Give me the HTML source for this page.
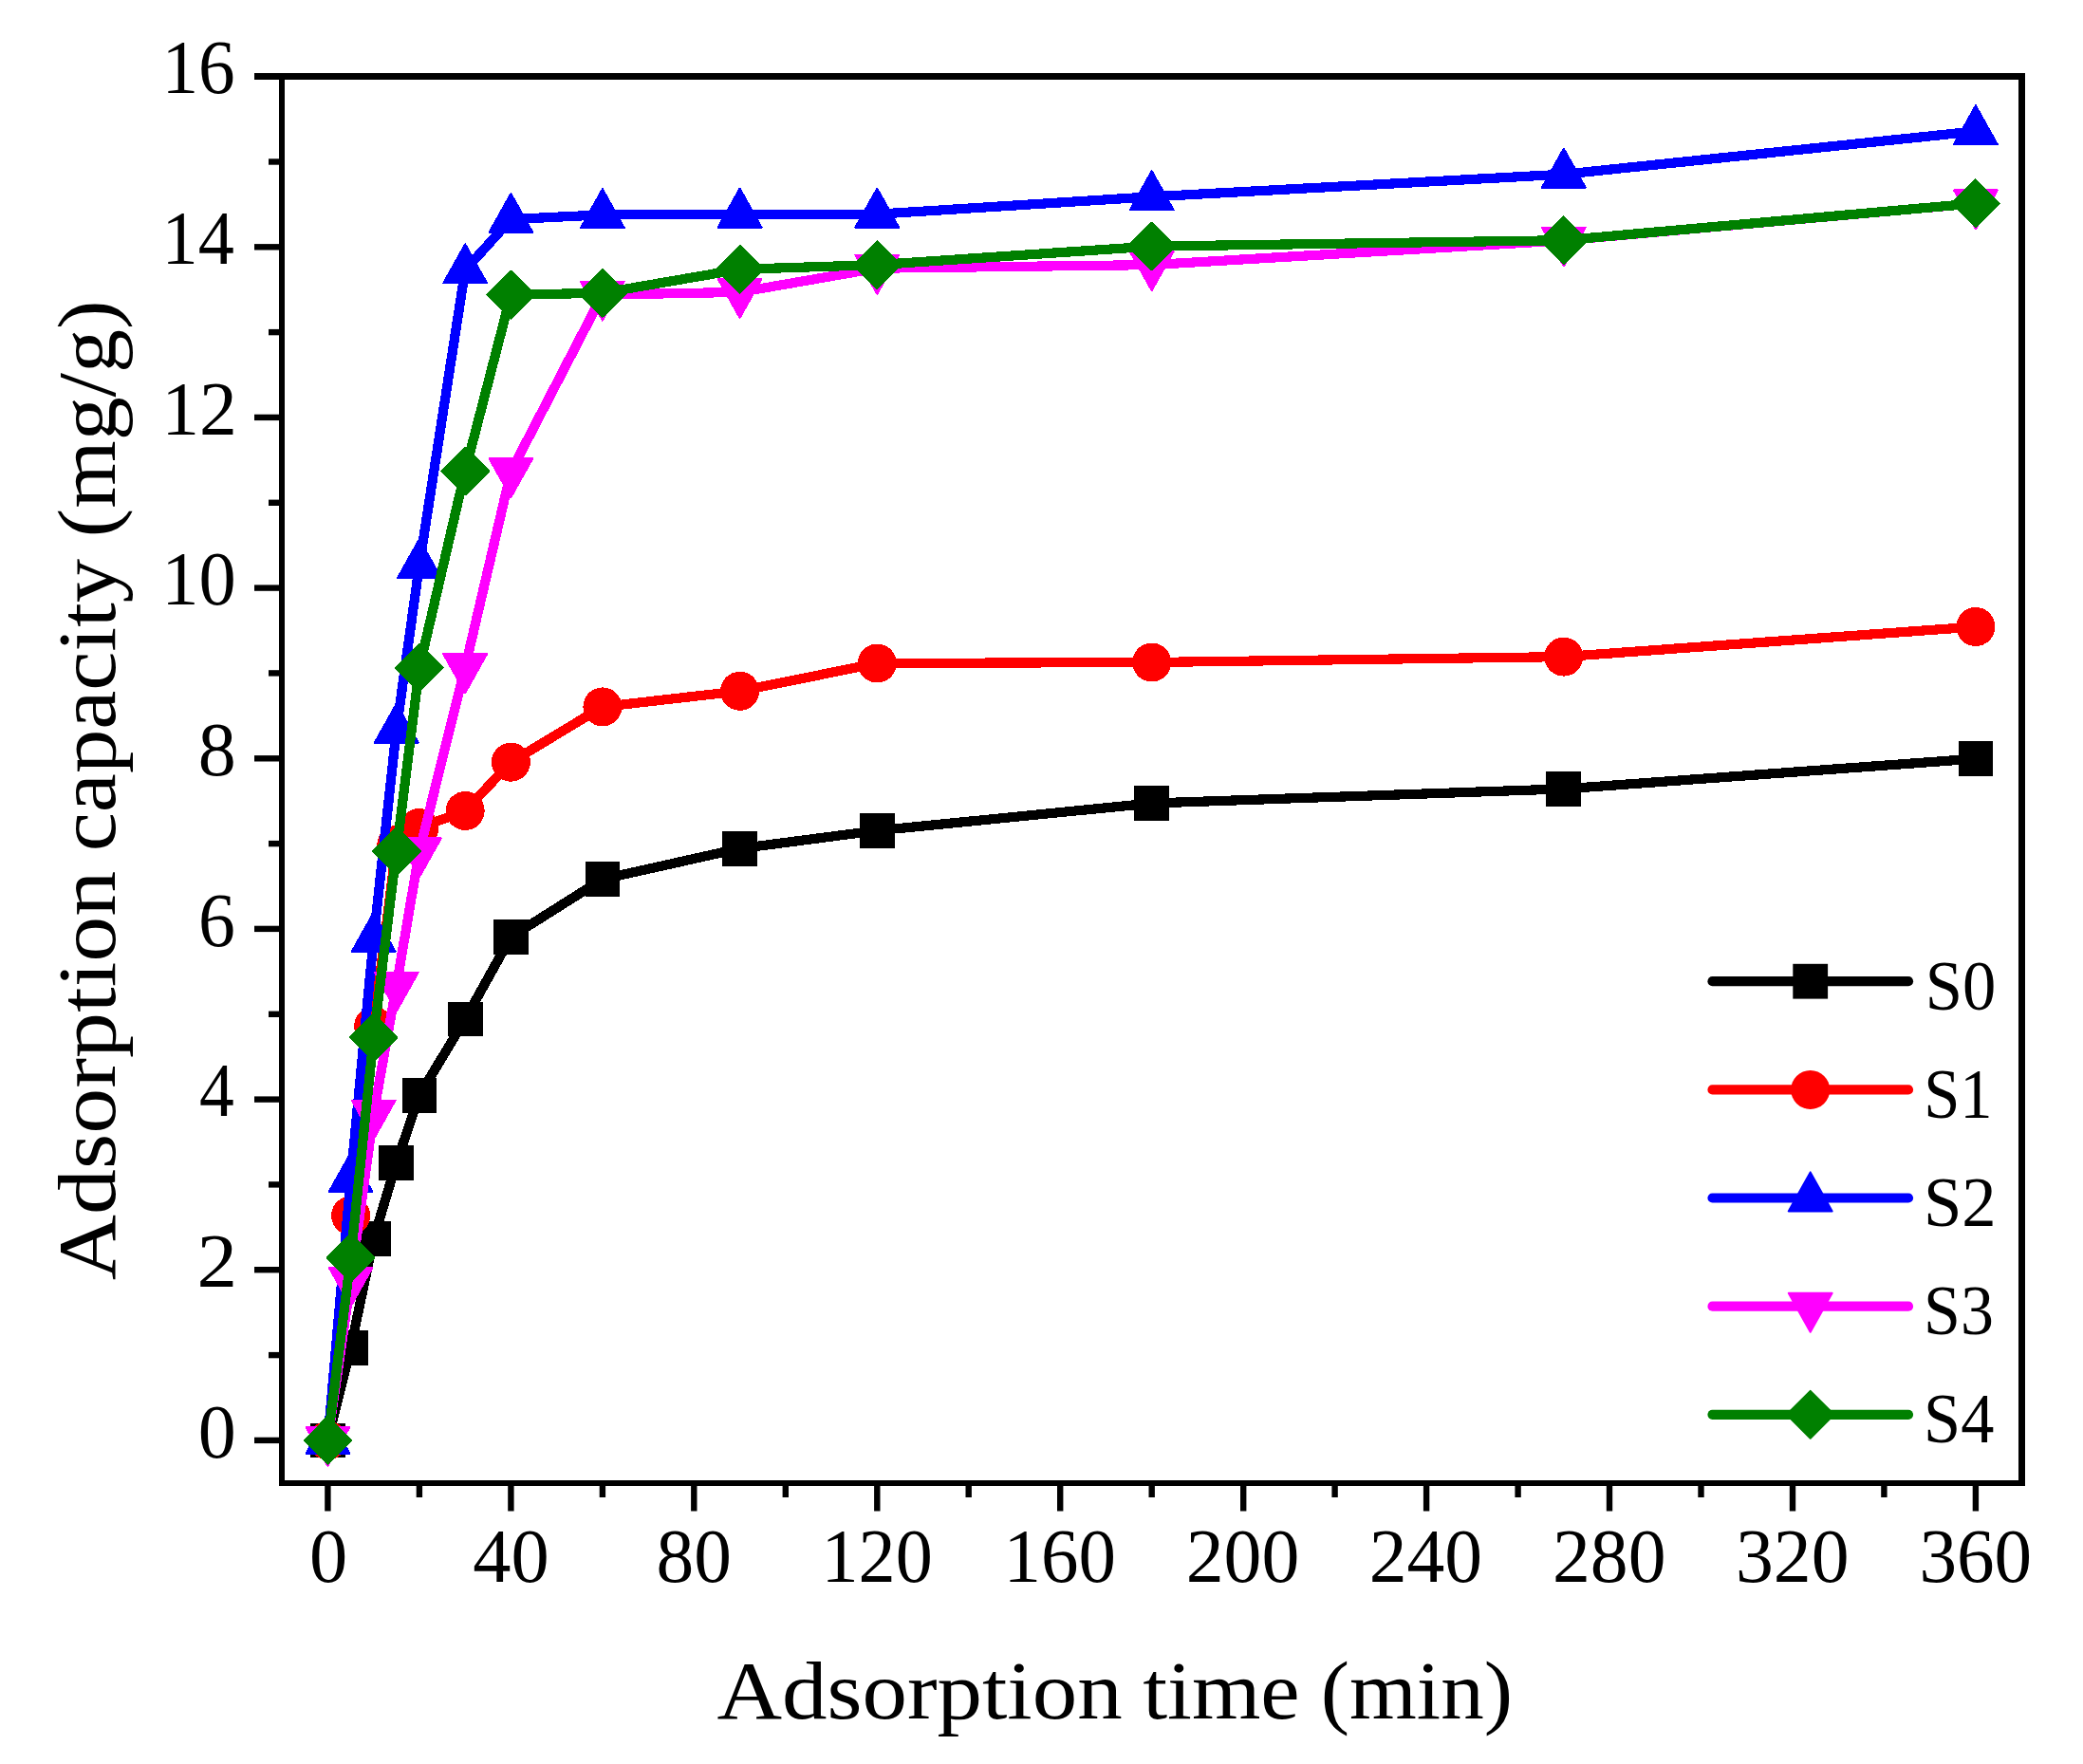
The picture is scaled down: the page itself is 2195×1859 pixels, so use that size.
<!DOCTYPE html>
<html lang="en">
<head>
<meta charset="utf-8">
<title>Adsorption capacity vs adsorption time</title>
<style>
html,body{margin:0;padding:0;background:#ffffff;}
body{width:2195px;height:1859px;overflow:hidden;}
svg{display:block;}
text{font-family:"Liberation Serif","DejaVu Serif",serif;fill:#000000;}
.tick{font-size:80px;}
.leg{font-size:74px;}
.title{font-size:86px;}
</style>
</head>
<body>
<svg width="2195" height="1859" viewBox="0 0 2195 1859">
<rect x="0" y="0" width="2195" height="1859" fill="#ffffff"/>
<g stroke="#000000" stroke-width="6.4" fill="none"><line x1="268.0" y1="1517.9" x2="297.0" y2="1517.9"/><line x1="283.0" y1="1428.1" x2="297.0" y2="1428.1"/><line x1="268.0" y1="1338.2" x2="297.0" y2="1338.2"/><line x1="283.0" y1="1248.4" x2="297.0" y2="1248.4"/><line x1="268.0" y1="1158.6" x2="297.0" y2="1158.6"/><line x1="283.0" y1="1068.8" x2="297.0" y2="1068.8"/><line x1="268.0" y1="978.9" x2="297.0" y2="978.9"/><line x1="283.0" y1="889.1" x2="297.0" y2="889.1"/><line x1="268.0" y1="799.3" x2="297.0" y2="799.3"/><line x1="283.0" y1="709.4" x2="297.0" y2="709.4"/><line x1="268.0" y1="619.6" x2="297.0" y2="619.6"/><line x1="283.0" y1="529.8" x2="297.0" y2="529.8"/><line x1="268.0" y1="439.9" x2="297.0" y2="439.9"/><line x1="283.0" y1="350.1" x2="297.0" y2="350.1"/><line x1="268.0" y1="260.3" x2="297.0" y2="260.3"/><line x1="283.0" y1="170.5" x2="297.0" y2="170.5"/><line x1="268.0" y1="80.6" x2="297.0" y2="80.6"/><line x1="345.4" y1="1562.7" x2="345.4" y2="1592.5"/><line x1="441.9" y1="1562.7" x2="441.9" y2="1578.0"/><line x1="538.4" y1="1562.7" x2="538.4" y2="1592.5"/><line x1="634.9" y1="1562.7" x2="634.9" y2="1578.0"/><line x1="731.3" y1="1562.7" x2="731.3" y2="1592.5"/><line x1="827.8" y1="1562.7" x2="827.8" y2="1578.0"/><line x1="924.3" y1="1562.7" x2="924.3" y2="1592.5"/><line x1="1020.7" y1="1562.7" x2="1020.7" y2="1578.0"/><line x1="1117.2" y1="1562.7" x2="1117.2" y2="1592.5"/><line x1="1213.7" y1="1562.7" x2="1213.7" y2="1578.0"/><line x1="1310.2" y1="1562.7" x2="1310.2" y2="1592.5"/><line x1="1406.6" y1="1562.7" x2="1406.6" y2="1578.0"/><line x1="1503.1" y1="1562.7" x2="1503.1" y2="1592.5"/><line x1="1599.6" y1="1562.7" x2="1599.6" y2="1578.0"/><line x1="1696.0" y1="1562.7" x2="1696.0" y2="1592.5"/><line x1="1792.5" y1="1562.7" x2="1792.5" y2="1578.0"/><line x1="1889.0" y1="1562.7" x2="1889.0" y2="1592.5"/><line x1="1985.4" y1="1562.7" x2="1985.4" y2="1578.0"/><line x1="2081.9" y1="1562.7" x2="2081.9" y2="1592.5"/></g>
<g shape-rendering="crispEdges">
<polyline points="345.4,1517.9 369.6,1420.4 393.7,1305.5 417.8,1225.3 441.9,1154.4 490.2,1074.0 538.4,987.4 634.9,926.5 779.6,894.2 924.3,875.3 1213.7,846.5 1647.8,831.4 2081.9,799.6" fill="none" stroke="#000000" stroke-width="10.2" stroke-linejoin="round" stroke-linecap="round"/>
<g><rect x="327.1" y="1499.5" width="36.8" height="36.8" fill="#000000"/><rect x="351.2" y="1402.0" width="36.8" height="36.8" fill="#000000"/><rect x="375.3" y="1287.1" width="36.8" height="36.8" fill="#000000"/><rect x="399.4" y="1206.9" width="36.8" height="36.8" fill="#000000"/><rect x="423.5" y="1136.0" width="36.8" height="36.8" fill="#000000"/><rect x="471.8" y="1055.6" width="36.8" height="36.8" fill="#000000"/><rect x="520.0" y="969.0" width="36.8" height="36.8" fill="#000000"/><rect x="616.5" y="908.1" width="36.8" height="36.8" fill="#000000"/><rect x="761.2" y="875.8" width="36.8" height="36.8" fill="#000000"/><rect x="905.9" y="856.9" width="36.8" height="36.8" fill="#000000"/><rect x="1195.3" y="828.1" width="36.8" height="36.8" fill="#000000"/><rect x="1629.4" y="813.0" width="36.8" height="36.8" fill="#000000"/><rect x="2063.5" y="781.2" width="36.8" height="36.8" fill="#000000"/></g>
<polyline points="345.4,1517.9 369.6,1281.1 393.7,1081.3 417.8,890.4 441.9,872.5 490.2,854.5 538.4,803.2 634.9,744.9 779.6,728.3 924.3,699.0 1213.7,698.0 1647.8,692.1 2081.9,660.5" fill="none" stroke="#ff0000" stroke-width="10.2" stroke-linejoin="round" stroke-linecap="round"/>
<g><circle cx="345.4" cy="1517.9" r="20.5" fill="#ff0000"/><circle cx="369.6" cy="1281.1" r="20.5" fill="#ff0000"/><circle cx="393.7" cy="1081.3" r="20.5" fill="#ff0000"/><circle cx="417.8" cy="890.4" r="20.5" fill="#ff0000"/><circle cx="441.9" cy="872.5" r="20.5" fill="#ff0000"/><circle cx="490.2" cy="854.5" r="20.5" fill="#ff0000"/><circle cx="538.4" cy="803.2" r="20.5" fill="#ff0000"/><circle cx="634.9" cy="744.9" r="20.5" fill="#ff0000"/><circle cx="779.6" cy="728.3" r="20.5" fill="#ff0000"/><circle cx="924.3" cy="699.0" r="20.5" fill="#ff0000"/><circle cx="1213.7" cy="698.0" r="20.5" fill="#ff0000"/><circle cx="1647.8" cy="692.1" r="20.5" fill="#ff0000"/><circle cx="2081.9" cy="660.5" r="20.5" fill="#ff0000"/></g>
<polyline points="345.4,1517.9 369.6,1242.1 393.7,988.9 417.8,768.7 441.9,595.3 490.2,284.5 538.4,231.1 634.9,226.3 779.6,225.7 924.3,225.7 1213.7,207.3 1647.8,183.7 2081.9,138.4" fill="none" stroke="#0000ff" stroke-width="10.2" stroke-linejoin="round" stroke-linecap="round"/>
<g><polygon points="322.50,1531.8 368.40,1531.8 345.4,1490.8" fill="#0000ff" stroke="#0000ff" stroke-width="2" stroke-linejoin="round"/><polygon points="346.62,1256.0 392.52,1256.0 369.6,1215.0" fill="#0000ff" stroke="#0000ff" stroke-width="2" stroke-linejoin="round"/><polygon points="370.74,1002.8 416.63,1002.8 393.7,961.8" fill="#0000ff" stroke="#0000ff" stroke-width="2" stroke-linejoin="round"/><polygon points="394.85,782.6 440.75,782.6 417.8,741.6" fill="#0000ff" stroke="#0000ff" stroke-width="2" stroke-linejoin="round"/><polygon points="418.97,609.2 464.87,609.2 441.9,568.2" fill="#0000ff" stroke="#0000ff" stroke-width="2" stroke-linejoin="round"/><polygon points="467.20,298.4 513.11,298.4 490.2,257.4" fill="#0000ff" stroke="#0000ff" stroke-width="2" stroke-linejoin="round"/><polygon points="515.44,245.0 561.34,245.0 538.4,204.0" fill="#0000ff" stroke="#0000ff" stroke-width="2" stroke-linejoin="round"/><polygon points="611.91,240.2 657.81,240.2 634.9,199.2" fill="#0000ff" stroke="#0000ff" stroke-width="2" stroke-linejoin="round"/><polygon points="756.62,239.6 802.52,239.6 779.6,198.6" fill="#0000ff" stroke="#0000ff" stroke-width="2" stroke-linejoin="round"/><polygon points="901.32,239.6 947.22,239.6 924.3,198.6" fill="#0000ff" stroke="#0000ff" stroke-width="2" stroke-linejoin="round"/><polygon points="1190.73,221.2 1236.63,221.2 1213.7,180.2" fill="#0000ff" stroke="#0000ff" stroke-width="2" stroke-linejoin="round"/><polygon points="1624.85,197.6 1670.75,197.6 1647.8,156.6" fill="#0000ff" stroke="#0000ff" stroke-width="2" stroke-linejoin="round"/><polygon points="2058.96,152.3 2104.86,152.3 2081.9,111.3" fill="#0000ff" stroke="#0000ff" stroke-width="2" stroke-linejoin="round"/></g>
<polyline points="345.4,1517.9 369.6,1349.6 393.7,1173.5 417.8,1038.7 441.9,897.2 490.2,703.1 538.4,497.0 634.9,310.6 779.6,307.9 924.3,282.7 1213.7,279.1 1647.8,253.4 2081.9,214.3" fill="none" stroke="#ff00ff" stroke-width="10.2" stroke-linejoin="round" stroke-linecap="round"/>
<g><polygon points="322.50,1504.0 368.40,1504.0 345.4,1545.0" fill="#ff00ff" stroke="#ff00ff" stroke-width="2" stroke-linejoin="round"/><polygon points="346.62,1335.7 392.52,1335.7 369.6,1376.7" fill="#ff00ff" stroke="#ff00ff" stroke-width="2" stroke-linejoin="round"/><polygon points="370.74,1159.6 416.63,1159.6 393.7,1200.6" fill="#ff00ff" stroke="#ff00ff" stroke-width="2" stroke-linejoin="round"/><polygon points="394.85,1024.8 440.75,1024.8 417.8,1065.8" fill="#ff00ff" stroke="#ff00ff" stroke-width="2" stroke-linejoin="round"/><polygon points="418.97,883.3 464.87,883.3 441.9,924.3" fill="#ff00ff" stroke="#ff00ff" stroke-width="2" stroke-linejoin="round"/><polygon points="467.20,689.2 513.11,689.2 490.2,730.2" fill="#ff00ff" stroke="#ff00ff" stroke-width="2" stroke-linejoin="round"/><polygon points="515.44,483.1 561.34,483.1 538.4,524.1" fill="#ff00ff" stroke="#ff00ff" stroke-width="2" stroke-linejoin="round"/><polygon points="611.91,296.7 657.81,296.7 634.9,337.7" fill="#ff00ff" stroke="#ff00ff" stroke-width="2" stroke-linejoin="round"/><polygon points="756.62,294.0 802.52,294.0 779.6,335.0" fill="#ff00ff" stroke="#ff00ff" stroke-width="2" stroke-linejoin="round"/><polygon points="901.32,268.8 947.22,268.8 924.3,309.8" fill="#ff00ff" stroke="#ff00ff" stroke-width="2" stroke-linejoin="round"/><polygon points="1190.73,265.2 1236.63,265.2 1213.7,306.2" fill="#ff00ff" stroke="#ff00ff" stroke-width="2" stroke-linejoin="round"/><polygon points="1624.85,239.5 1670.75,239.5 1647.8,280.5" fill="#ff00ff" stroke="#ff00ff" stroke-width="2" stroke-linejoin="round"/><polygon points="2058.96,200.4 2104.86,200.4 2081.9,241.4" fill="#ff00ff" stroke="#ff00ff" stroke-width="2" stroke-linejoin="round"/></g>
<polyline points="345.4,1517.9 369.6,1325.7 393.7,1093.2 417.8,897.0 441.9,703.7 490.2,496.5 538.4,310.6 634.9,308.8 779.6,283.8 924.3,279.1 1213.7,259.6 1647.8,253.2 2081.9,214.3" fill="none" stroke="#008000" stroke-width="10.2" stroke-linejoin="round" stroke-linecap="round"/>
<g><polygon points="320.6,1517.9 345.4,1493.0 370.3,1517.9 345.4,1542.8" fill="#008000" stroke="#008000" stroke-width="2" stroke-linejoin="round"/><polygon points="344.7,1325.7 369.6,1300.8 394.5,1325.7 369.6,1350.6" fill="#008000" stroke="#008000" stroke-width="2" stroke-linejoin="round"/><polygon points="368.8,1093.2 393.7,1068.3 418.6,1093.2 393.7,1118.1" fill="#008000" stroke="#008000" stroke-width="2" stroke-linejoin="round"/><polygon points="392.9,897.0 417.8,872.1 442.7,897.0 417.8,921.9" fill="#008000" stroke="#008000" stroke-width="2" stroke-linejoin="round"/><polygon points="417.0,703.7 441.9,678.8 466.8,703.7 441.9,728.6" fill="#008000" stroke="#008000" stroke-width="2" stroke-linejoin="round"/><polygon points="465.3,496.5 490.2,471.6 515.1,496.5 490.2,521.4" fill="#008000" stroke="#008000" stroke-width="2" stroke-linejoin="round"/><polygon points="513.5,310.6 538.4,285.7 563.3,310.6 538.4,335.5" fill="#008000" stroke="#008000" stroke-width="2" stroke-linejoin="round"/><polygon points="610.0,308.8 634.9,283.9 659.8,308.8 634.9,333.7" fill="#008000" stroke="#008000" stroke-width="2" stroke-linejoin="round"/><polygon points="754.7,283.8 779.6,258.9 804.5,283.8 779.6,308.7" fill="#008000" stroke="#008000" stroke-width="2" stroke-linejoin="round"/><polygon points="899.4,279.1 924.3,254.2 949.2,279.1 924.3,304.0" fill="#008000" stroke="#008000" stroke-width="2" stroke-linejoin="round"/><polygon points="1188.8,259.6 1213.7,234.7 1238.6,259.6 1213.7,284.5" fill="#008000" stroke="#008000" stroke-width="2" stroke-linejoin="round"/><polygon points="1622.9,253.2 1647.8,228.3 1672.7,253.2 1647.8,278.1" fill="#008000" stroke="#008000" stroke-width="2" stroke-linejoin="round"/><polygon points="2057.0,214.3 2081.9,189.4 2106.8,214.3 2081.9,239.2" fill="#008000" stroke="#008000" stroke-width="2" stroke-linejoin="round"/></g>
</g>
<g fill="#000000" shape-rendering="crispEdges"><rect x="294" y="77" width="6" height="1489"/><rect x="2127" y="77" width="7" height="1489"/><rect x="268" y="77" width="1866" height="7"/><rect x="294" y="1560" width="1840" height="6"/></g>
<text class="tick" x="208.80" y="1535.5" textLength="40.00" lengthAdjust="spacingAndGlyphs">0</text>
<text class="tick" x="207.55" y="1355.8" textLength="42.50" lengthAdjust="spacingAndGlyphs">2</text>
<text class="tick" x="209.96" y="1176.2" textLength="36.76" lengthAdjust="spacingAndGlyphs">4</text>
<text class="tick" x="208.89" y="996.5" textLength="38.86" lengthAdjust="spacingAndGlyphs">6</text>
<text class="tick" x="208.80" y="816.9" textLength="40.00" lengthAdjust="spacingAndGlyphs">8</text>
<text class="tick" x="170.34" y="637.2" textLength="78.40" lengthAdjust="spacingAndGlyphs">10</text>
<text class="tick" x="170.24" y="457.5" textLength="79.54" lengthAdjust="spacingAndGlyphs">12</text>
<text class="tick" x="170.53" y="277.9" textLength="76.22" lengthAdjust="spacingAndGlyphs">14</text>
<text class="tick" x="170.44" y="98.2" textLength="77.30" lengthAdjust="spacingAndGlyphs">16</text>
<text class="tick" x="325.98" y="1667.0" textLength="40.24" lengthAdjust="spacingAndGlyphs">0</text>
<text class="tick" x="498.19" y="1667.0" textLength="80.43" lengthAdjust="spacingAndGlyphs">40</text>
<text class="tick" x="691.62" y="1667.0" textLength="79.35" lengthAdjust="spacingAndGlyphs">80</text>
<text class="tick" x="865.46" y="1667.0" textLength="117.27" lengthAdjust="spacingAndGlyphs">120</text>
<text class="tick" x="1057.59" y="1667.0" textLength="118.47" lengthAdjust="spacingAndGlyphs">160</text>
<text class="tick" x="1249.71" y="1667.0" textLength="119.68" lengthAdjust="spacingAndGlyphs">200</text>
<text class="tick" x="1442.72" y="1667.0" textLength="119.36" lengthAdjust="spacingAndGlyphs">240</text>
<text class="tick" x="1636.01" y="1667.0" textLength="119.58" lengthAdjust="spacingAndGlyphs">280</text>
<text class="tick" x="1828.91" y="1667.0" textLength="119.58" lengthAdjust="spacingAndGlyphs">320</text>
<text class="tick" x="2022.44" y="1667.0" textLength="118.73" lengthAdjust="spacingAndGlyphs">360</text>
<line x1="1804.5" y1="1034.2" x2="2011" y2="1034.2" stroke="#000000" stroke-width="10.2" stroke-linecap="round"/>
<rect x="1889.3" y="1015.8" width="36.8" height="36.8" fill="#000000"/>
<text class="leg" x="2028.63" y="1063.8" textLength="74.58" lengthAdjust="spacingAndGlyphs">S0</text>
<line x1="1804.5" y1="1148.4" x2="2011" y2="1148.4" stroke="#ff0000" stroke-width="10.2" stroke-linecap="round"/>
<circle cx="1907.7" cy="1148.4" r="20.5" fill="#ff0000"/>
<text class="leg" x="2027.17" y="1178.0" textLength="72.38" lengthAdjust="spacingAndGlyphs">S1</text>
<line x1="1804.5" y1="1262.5" x2="2011" y2="1262.5" stroke="#0000ff" stroke-width="10.2" stroke-linecap="round"/>
<polygon points="1884.75,1276.4 1930.65,1276.4 1907.7,1235.4" fill="#0000ff" stroke="#0000ff" stroke-width="2" stroke-linejoin="round"/>
<text class="leg" x="2026.89" y="1292.1" textLength="76.68" lengthAdjust="spacingAndGlyphs">S2</text>
<line x1="1804.5" y1="1376.7" x2="2011" y2="1376.7" stroke="#ff00ff" stroke-width="10.2" stroke-linecap="round"/>
<polygon points="1884.75,1362.8 1930.65,1362.8 1907.7,1403.8" fill="#ff00ff" stroke="#ff00ff" stroke-width="2" stroke-linejoin="round"/>
<text class="leg" x="2027.08" y="1406.2" textLength="73.80" lengthAdjust="spacingAndGlyphs">S3</text>
<line x1="1804.5" y1="1490.8" x2="2011" y2="1490.8" stroke="#008000" stroke-width="10.2" stroke-linecap="round"/>
<polygon points="1882.8,1490.8 1907.7,1465.9 1932.6,1490.8 1907.7,1515.7" fill="#008000" stroke="#008000" stroke-width="2" stroke-linejoin="round"/>
<text class="leg" x="2027.05" y="1520.4" textLength="74.25" lengthAdjust="spacingAndGlyphs">S4</text>
<text class="title" x="755.40" y="1811.2" textLength="427.31" lengthAdjust="spacingAndGlyphs">Adsorption</text>
<text class="title" x="1204.22" y="1811.2" textLength="165.48" lengthAdjust="spacingAndGlyphs">time</text>
<text class="title" x="1391.66" y="1811.2" textLength="202.35" lengthAdjust="spacingAndGlyphs">(min)</text>
<text class="title" transform="translate(121.2,1349.32) rotate(-90)" x="0" y="0" textLength="431.53" lengthAdjust="spacingAndGlyphs">Adsorption</text>
<text class="title" transform="translate(121.2,897.23) rotate(-90)" x="0" y="0" textLength="308.25" lengthAdjust="spacingAndGlyphs">capacity</text>
<text class="title" transform="translate(121.2,566.27) rotate(-90)" x="0" y="0" textLength="249.82" lengthAdjust="spacingAndGlyphs">(mg/g)</text>
</svg>
</body>
</html>
